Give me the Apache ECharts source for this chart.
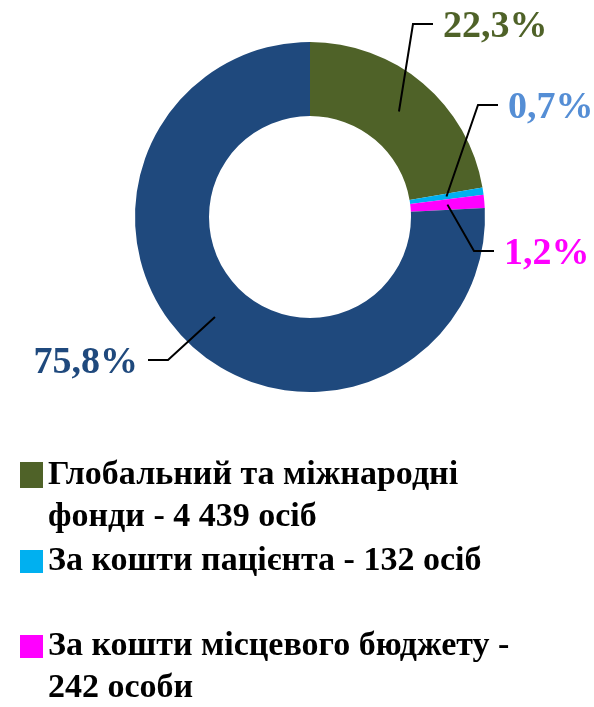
<!DOCTYPE html>
<html><head><meta charset="utf-8">
<script src="https://cdn.jsdelivr.net/npm/echarts@6/dist/echarts.min.js"></script>
<style>html,body{margin:0;padding:0;background:#fff}#c{width:594px;height:707px}</style>
</head><body><div id="c"></div>
<script>
// ---- data ----
const categories = ['Глобальний та міжнародні фонди - 4 439 осіб', 'За кошти пацієнта - 132 осіб', 'За кошти місцевого бюджету - 242 особи', 'Інші джерела'];
const legendLabels = ['Глобальний та міжнародні\nфонди - 4 439 осіб', 'За кошти пацієнта - 132 осіб', 'За кошти місцевого бюджету -\n242 особи'];
const values = [4439, 132, 242, 15093];
const sliceColors = ['#4f6228', '#00b0f0', '#ff00ff', '#1f497d'];
const labelColors = ['#4f6228', '#558ed5', '#ff00ff', '#1f497d'];

// ---- layout ----
const CX = 310, CY = 217, R0 = 101, R1 = 175, RM = 138;
const labelPos = [[443, 27, 'left'], [508, 108, 'left'], [504, 254, 'left'], [138, 363, 'right']];
const total = values.reduce((a, b) => a + b, 0);
const cum = []; values.reduce((a, v, i) => { cum[i] = a; return a + v; }, 0);

const chart = echarts.init(document.getElementById('c'), null, {renderer: 'canvas'});
const font = '"Liberation Serif", "Times New Roman", serif';
function legendFor(i, top, h) {
  return {
    data: [categories[i]], left: 20, top: top, padding: 0, orient: 'vertical',
    selectedMode: false, icon: 'rect', itemWidth: 23, itemHeight: h,
    formatter: n => {
      const t = legendLabels[categories.indexOf(n)];
      // two-line entries: keep the marker level with the first line
      return t.indexOf('\n') >= 0 ? '\n' + t : t;
    },
    textStyle: {fontFamily: font, fontWeight: 'bold', fontSize: 34, lineHeight: 42, color: '#000'}
  };
}
const pieData = (withColor) => categories.map((c, i) => ({
  name: c, value: values[i],
  itemStyle: {color: withColor ? sliceColors[i] : 'rgba(0,0,0,0)'},
  label: {color: labelColors[i]}
}));
const common = {type: 'pie', center: [CX, CY], radius: [R0, R1], startAngle: 90, clockwise: true,
  avoidLabelOverlap: false, emphasis: {disabled: true}, silent: true, itemStyle: {borderWidth: 0}};
chart.setOption({
  animation: false,
  legend: [legendFor(0, 412, 26), legendFor(1, 540.5, 23), legendFor(2, 583.5, 23)],
  series: [
    Object.assign({}, common, {z: 2, data: pieData(true), label: {show: false}, labelLine: {show: false}}),
    Object.assign({}, common, {
      z: 3, data: pieData(false), legendHoverLink: false,
      label: {show: true, position: 'outside', fontFamily: font, fontWeight: 'bold', fontSize: 38,
        formatter: p => p.percent.toFixed(1).replace('.', ',') + '%'},
      labelLine: {show: true, showAbove: true, length: 10, length2: 10, lineStyle: {color: '#000', width: 2}},
      labelLayout: function (p) {
        const i = p.dataIndex, lp = labelPos[i];
        const th = 2 * Math.PI * (cum[i] + values[i] / 2) / total;
        const s = [CX + RM * Math.sin(th), CY - RM * Math.cos(th)];
        const dir = lp[2] === 'left' ? 1 : -1;
        const end = [lp[0] - dir * 10, lp[1] - 3];
        const elbow = [end[0] - dir * 20, end[1]];
        return {x: lp[0], y: lp[1], align: lp[2], verticalAlign: 'middle', labelLinePoints: [s, elbow, end]};
      }
    })
  ]
});
</script></body></html>
